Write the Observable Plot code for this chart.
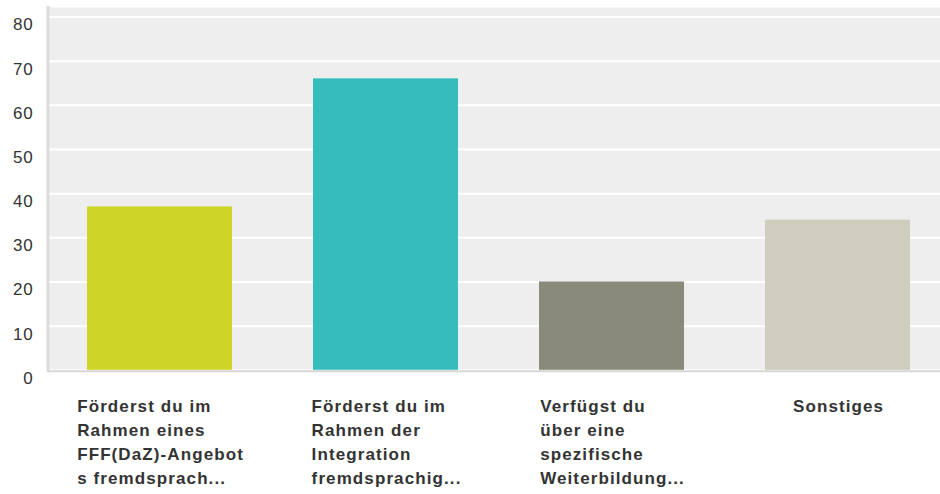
<!DOCTYPE html>
<html>
<head>
<meta charset="utf-8">
<script src="https://cdn.jsdelivr.net/npm/d3@7"></script>
<script src="https://cdn.jsdelivr.net/npm/@observablehq/plot@0.6"></script>
<style>
  html, body { margin: 0; padding: 0; background: #ffffff; overflow: hidden; }
  #chart { width: 940px; height: 494px; overflow: hidden; }
</style>
</head>
<body>
<div id="chart"></div>
<script>
// ---- data ----
const categories = ["c1", "c2", "c3", "c4"];
const labels = [
  "Förderst du im\nRahmen eines\nFFF(DaZ)-Angebot\ns fremdsprach...",
  "Förderst du im\nRahmen der\nIntegration\nfremdsprachig...",
  "Verfügst du\nüber eine\nspezifische\nWeiterbildung...",
  "Sonstiges"
];
const values = [37, 66, 20, 34];
const colors = ["#cfd428", "#35bdbe", "#898a79", "#cfcdbd"];
const yTicks = [0, 10, 20, 30, 40, 50, 60, 70, 80];

const data = categories.map((c, i) => ({id: c, label: labels[i], value: values[i]}));

// ---- measure label blocks ----
const labelSize = 17;
const labelFont = `bold ${labelSize}px 'Liberation Sans', Arial, sans-serif`;
const labelSpacing = 1.1;
const ctx = document.createElement("canvas").getContext("2d");
ctx.font = labelFont;
function blockWidth(text) {
  return d3.max(text.split("\n"), l => ctx.measureText(l).width + labelSpacing * (l.length - 1));
}

const labelMarks = data.map(d => Plot.text([d], {
  x: "id",
  text: "label",
  frameAnchor: "bottom",
  textAnchor: "start",
  lineAnchor: "top",
  lineHeight: 24 / labelSize,
  dx: -blockWidth(d.label) / 2,
  dy: 25,
  fontSize: labelSize,
  fontWeight: "bold",
  fill: "#333333"
}));

const chart = Plot.plot({
  width: 940,
  height: 494,
  marginLeft: 47,
  marginRight: 0,
  marginTop: 7,
  marginBottom: 124.2,
  style: {fontFamily: "'Liberation Sans', Arial, sans-serif", background: "#ffffff", color: "#333333"},
  x: {domain: categories, range: [46.5, 950.5], paddingInner: 0.3584, paddingOuter: 0.1792, axis: null},
  y: {domain: [0, 82.15], axis: null},
  color: {domain: categories, range: colors},
  marks: [
    Plot.frame({fill: "#eeeeee", stroke: null}),
    Plot.gridY(yTicks, {stroke: "#ffffff", strokeOpacity: 1, strokeWidth: 2}),
    Plot.barY(data, {x: "id", y: "value", fill: "id"}),
    Plot.ruleY([0], {stroke: "#d6d6d6", strokeWidth: 2, dy: 1}),
    Plot.frame({anchor: "left", stroke: "#dcdcdc", strokeWidth: 3, dx: 0.5}),
    Plot.axisY(yTicks, {label: null, tickSize: 0, tickPadding: 14, fontSize: 17, dy: 8, fill: "#333333"}),
    ...labelMarks
  ]
});

d3.select(chart).selectAll("g[aria-label='text'] text").style("letter-spacing", labelSpacing + "px");
d3.select(chart).selectAll("g[aria-label='y-axis tick label'] text").style("letter-spacing", "0.8px");
document.getElementById("chart").appendChild(chart);
</script>
</body>
</html>
